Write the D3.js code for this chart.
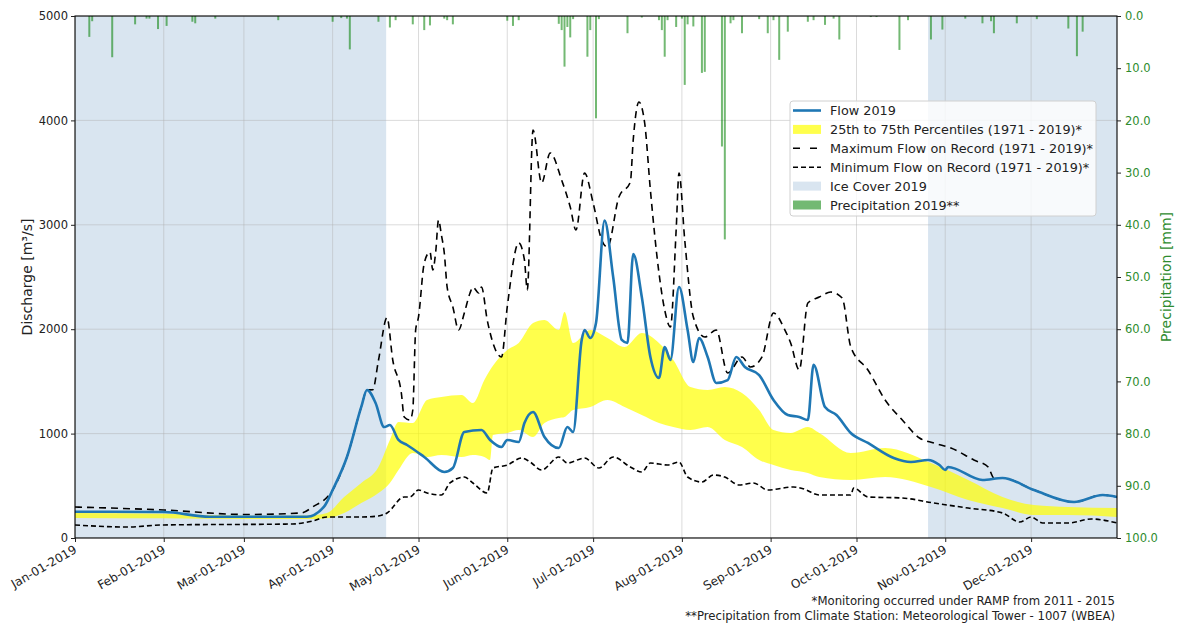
<!DOCTYPE html>
<html>
<head>
<meta charset="utf-8">
<script src="https://cdn.jsdelivr.net/npm/d3@7"></script>
<style>
  body { margin: 0; background: #fff; }
  text { font-family: "DejaVu Sans", sans-serif; }
</style>
</head>
<body>
<svg id="chart" width="1177" height="625"></svg>
<script>
// ---- Data (day of year, 0 = Jan 1 2019) ----
const flowDay = [0, 31, 47, 81, 87, 90, 95, 100, 102, 105, 108, 110, 113, 116, 122, 129, 132, 136, 142, 145, 149, 151, 155, 157, 160, 164, 169, 172, 174, 177, 178, 180, 182, 185, 188, 191, 193, 195, 198, 201, 204, 206, 208, 211, 214, 216, 218, 221, 224, 228, 231, 234, 239, 244, 249, 253, 256, 258, 262, 266, 271, 277, 286, 292, 298, 302, 304, 305, 317, 324, 335, 349, 359, 364];
const flowCms = [252, 249, 204, 204, 300, 460, 776, 1255, 1418, 1293, 1063, 1082, 939, 891, 776, 632, 670, 1015, 1034, 939, 872, 939, 920, 1101, 1207, 967, 862, 1063, 1015, 1897, 1992, 1916, 2059, 3040, 2500, 1897, 1868, 2720, 2308, 1734, 1533, 1830, 1705, 2404, 1992, 1686, 1916, 1734, 1485, 1513, 1734, 1638, 1561, 1322, 1178, 1159, 1130, 1660, 1255, 1178, 1006, 910, 766, 728, 747, 699, 651, 680, 556, 575, 460, 345, 412, 393];

const bandDay = [0, 31, 60, 81, 88, 94, 100, 106, 110, 113, 118, 123, 128, 135, 139, 143, 145, 146, 151, 155, 160, 164, 169, 171, 174, 180, 186, 192, 198, 204, 209, 215, 221, 227, 233, 239, 244, 250, 256, 260, 271, 283, 299, 312, 324, 335, 347, 364];
const p25Cms  = [192, 188, 182, 182, 190, 240, 335, 431, 527, 651, 814, 776, 795, 776, 795, 776, 747, 987, 1006, 1034, 967, 1101, 1149, 1159, 1226, 1255, 1322, 1255, 1178, 1101, 1063, 1034, 1063, 939, 872, 747, 699, 651, 623, 584, 556, 584, 489, 364, 287, 220, 220, 201];
const p75Cms  = [240, 232, 212, 215, 240, 393, 527, 680, 939, 1111, 1101, 1322, 1351, 1370, 1293, 1513, 1609, 1650, 1800, 1868, 2059, 2088, 1992, 2165, 1868, 1992, 1916, 1830, 1964, 1868, 1705, 1446, 1418, 1446, 1389, 1226, 1034, 1006, 1063, 1006, 814, 862, 718, 556, 393, 316, 297, 287];

const maxDay = [0, 31, 60, 79, 83, 90, 95, 100, 102, 104, 106, 109, 111, 114, 115, 117, 118, 119, 120, 122, 124, 125, 126, 127, 128, 129, 130, 132, 134, 136, 138, 139, 141, 142, 144, 149, 151, 155, 157, 158, 160, 163, 166, 170, 173, 175, 178, 181, 184, 186, 190, 194, 195, 197, 199, 201, 204, 206, 208, 210, 211, 213, 216, 220, 224, 228, 233, 236, 240, 244, 248, 250, 253, 256, 260, 264, 268, 271, 277, 283, 289, 295, 300, 306, 314, 319, 321, 324, 335, 349, 359, 364];
const maxCms = [297, 268, 225, 240, 297, 460, 776, 1255, 1418, 1420, 1700, 2110, 1705, 1389, 1159, 1130, 1226, 1992, 2117, 2634, 2740, 2567, 2740, 3046, 2902, 2730, 2404, 2213, 1992, 2155, 2347, 2404, 2347, 2404, 2088, 1734, 2213, 2826, 2663, 2375, 3908, 3400, 3688, 3429, 3170, 2950, 3496, 3209, 2854, 2787, 3266, 3410, 3812, 4176, 3975, 3333, 2538, 2184, 2021, 2950, 3496, 2854, 2117, 1925, 1992, 1580, 1734, 1638, 1734, 2155, 1992, 1868, 1609, 2251, 2308, 2356, 2299, 1830, 1609, 1322, 1130, 958, 910, 862, 747, 680, 575, 575, 460, 345, 412, 393];

const minDay = [0, 18, 31, 76, 83, 88, 100, 106, 109, 115, 117, 120, 123, 128, 131, 136, 139, 144, 146, 151, 156, 159, 163, 169, 172, 178, 183, 188, 194, 198, 201, 207, 211, 214, 219, 223, 227, 232, 237, 242, 251, 254, 260, 271, 272, 277, 289, 300, 312, 324, 330, 334, 338, 347, 355, 364];
const minCms = [125, 105, 125, 134, 163, 201, 201, 211, 240, 393, 393, 460, 431, 412, 527, 584, 527, 431, 670, 699, 766, 728, 651, 776, 718, 766, 670, 776, 680, 632, 718, 699, 728, 584, 536, 603, 584, 508, 527, 460, 489, 475, 412, 412, 479, 393, 383, 335, 287, 240, 153, 201, 144, 144, 182, 144];

const precipDay = [5, 6, 13, 21, 25, 26, 29, 32, 41, 42, 49, 71, 90, 93, 95, 96, 106, 110, 112, 118, 122, 124, 129, 130, 132, 151, 153, 155, 169, 170, 171, 172, 173, 174, 179, 180, 182, 183, 193, 198, 204, 205, 206, 207, 210, 212, 213, 214, 216, 219, 220, 226, 227, 229, 230, 233, 239, 242, 244, 246, 249, 256, 258, 262, 265, 267, 278, 280, 288, 291, 299, 303, 311, 317, 320, 321, 329, 336, 347, 350, 352];
const precipMm  = [4.0, 1.0, 7.9, 1.6, 0.5, 0.5, 2.5, 1.9, 1.1, 1.4, 0.5, 0.8, 1.1, 0.4, 0.5, 6.4, 1.1, 2.2, 0.8, 1.6, 2.7, 1.8, 0.5, 0.8, 1.6, 0.9, 1.9, 0.8, 1.5, 2.7, 9.7, 2.1, 4.1, 0.6, 7.8, 2.7, 19.6, 0.6, 3.3, 0.3, 0.8, 2.7, 7.8, 0.8, 2.1, 0.5, 13.2, 1.6, 2.0, 10.9, 10.7, 25.0, 42.8, 1.4, 0.8, 3.3, 0.6, 3.3, 0.8, 8.4, 3.0, 1.1, 0.8, 1.7, 0.5, 4.5, 0.2, 0.2, 6.5, 0.8, 4.5, 2.6, 0.5, 1.4, 1.0, 3.3, 1.4, 0.6, 2.4, 7.7, 3.0];

// ice-covered periods [start day, end day]
const iceStart = [0, 298];
const iceEnd   = [108, 364];

const dischargeTicks = [0, 1000, 2000, 3000, 4000, 5000];
const precipTicks = [0, 10, 20, 30, 40, 50, 60, 70, 80, 90, 100];
const monthTickLabels = ["Jan-01-2019", "Feb-01-2019", "Mar-01-2019", "Apr-01-2019", "May-01-2019", "Jun-01-2019",
                         "Jul-01-2019", "Aug-01-2019", "Sep-01-2019", "Oct-01-2019", "Nov-01-2019", "Dec-01-2019"];

const legendLabels = ["Flow 2019", "25th to 75th Percentiles (1971 - 2019)*", "Maximum Flow on Record (1971 - 2019)*",
                      "Minimum Flow on Record (1971 - 2019)*", "Ice Cover 2019", "Precipitation 2019**"];
const footnotes = ["*Monitoring occurred under RAMP from 2011 - 2015",
                   "**Precipitation from Climate Station: Meteorological Tower - 1007 (WBEA)"];

// ---- Layout ----
const W = 1177, H = 625;
const plotL = 75, plotR = 1117, plotT = 16, plotB = 538;

const dayDate = d => new Date(2019, 0, 1 + d);
const x = d3.scaleTime().domain([dayDate(0), dayDate(364)]).range([plotL, plotR]);
const y = d3.scaleLinear().domain([0, 5000]).range([plotB, plotT]);
const yP = d3.scaleLinear().domain([0, 100]).range([plotT, plotB]);

const svg = d3.select("#chart");
svg.append("rect").attr("width", W).attr("height", H).attr("fill", "#fff");

const COL = {
  flow: "#1f77b4", band: "#ffff00", ice: "#d9e5f0", precip: "#008000",
  grid: "#b0b0b0", greenText: "#2e8b2e"
};

svg.append("defs").append("clipPath").attr("id", "plot")
  .append("rect").attr("x", plotL).attr("y", plotT).attr("width", plotR - plotL).attr("height", plotB - plotT);

const plot = svg.append("g").attr("clip-path", "url(#plot)");

// ice cover spans
plot.selectAll("rect.ice").data(iceStart.map((s, i) => [s, iceEnd[i]])).join("rect")
  .attr("class", "ice")
  .attr("x", d => x(dayDate(d[0])))
  .attr("width", d => x(dayDate(d[1])) - x(dayDate(d[0])) + 2)
  .attr("y", plotT).attr("height", plotB - plotT)
  .attr("fill", COL.ice);

// grid
const monthDates = d3.range(12).map(m => new Date(2019, m, 1));
plot.append("g").selectAll("line").data(monthDates).join("line")
  .attr("x1", d => x(d)).attr("x2", d => x(d)).attr("y1", plotT).attr("y2", plotB)
  .attr("stroke", COL.grid).attr("stroke-opacity", 0.45).attr("stroke-width", 1);
plot.append("g").selectAll("line").data(dischargeTicks).join("line")
  .attr("x1", plotL).attr("x2", plotR).attr("y1", d => y(d)).attr("y2", d => y(d))
  .attr("stroke", COL.grid).attr("stroke-opacity", 0.45).attr("stroke-width", 1);

// percentile band
const band = bandDay.map((d, i) => ({ d, lo: p25Cms[i], hi: p75Cms[i] }));
plot.append("path").datum(band)
  .attr("d", d3.area().x(p => x(dayDate(p.d))).y0(p => y(p.lo)).y1(p => y(p.hi)).curve(d3.curveMonotoneX))
  .attr("fill", COL.band).attr("fill-opacity", 0.7);

// record lines
const lineOf = (days, vals) => d3.line().x((v, i) => x(dayDate(days[i]))).y(v => y(v)).curve(d3.curveMonotoneX)(vals);
plot.append("path").attr("d", lineOf(maxDay, maxCms))
  .attr("fill", "none").attr("stroke", "#000").attr("stroke-width", 1.6).attr("stroke-dasharray", "7,5");
plot.append("path").attr("d", lineOf(minDay, minCms))
  .attr("fill", "none").attr("stroke", "#000").attr("stroke-width", 1.6).attr("stroke-dasharray", "5,3");

// flow 2019
plot.append("path").attr("d", lineOf(flowDay, flowCms))
  .attr("fill", "none").attr("stroke", COL.flow).attr("stroke-width", 2.6).attr("stroke-linejoin", "round");

// precipitation bars hanging from the top (inverted secondary axis)
const dayW = x(dayDate(1)) - x(dayDate(0));
plot.append("g").selectAll("rect").data(precipDay.map((d, i) => ({ d, v: precipMm[i] }))).join("rect")
  .attr("x", p => x(dayDate(p.d)) - dayW * 0.35)
  .attr("width", dayW * 0.7)
  .attr("y", yP(0))
  .attr("height", p => yP(p.v) - yP(0))
  .attr("fill", COL.precip).attr("fill-opacity", 0.55);

// spines
svg.append("rect").attr("x", plotL).attr("y", plotT).attr("width", plotR - plotL).attr("height", plotB - plotT)
  .attr("fill", "none").attr("stroke", "#000").attr("stroke-width", 1.1);

// left axis
const yAxis = svg.append("g").attr("transform", `translate(${plotL},0)`)
  .call(d3.axisLeft(y).tickValues(dischargeTicks).tickFormat(d3.format("d")).tickSize(4).tickPadding(3));
yAxis.select(".domain").remove();
yAxis.selectAll("text").attr("font-size", 11.5).attr("fill", "#222").attr("font-family", "DejaVu Sans");
yAxis.selectAll("line").attr("stroke", "#222");

// right axis
const pAxis = svg.append("g").attr("transform", `translate(${plotR},0)`)
  .call(d3.axisRight(yP).tickValues(precipTicks).tickFormat(d3.format(".1f")).tickSize(4).tickPadding(4));
pAxis.select(".domain").remove();
pAxis.selectAll("text").attr("font-size", 11.5).attr("fill", COL.greenText).attr("font-family", "DejaVu Sans");
pAxis.selectAll("line").attr("stroke", "#222");

// bottom axis with rotated labels
const xAxis = svg.append("g").attr("transform", `translate(0,${plotB})`)
  .call(d3.axisBottom(x).tickValues(monthDates).tickFormat((d, i) => monthTickLabels[i]).tickSize(4));
xAxis.select(".domain").remove();
xAxis.selectAll("line").attr("stroke", "#222");
xAxis.selectAll("text")
  .attr("font-size", 12).attr("fill", "#222").attr("font-family", "DejaVu Sans")
  .attr("text-anchor", "end").attr("dy", null).attr("y", null)
  .attr("transform", "translate(2,14) rotate(-30)");

// axis titles
svg.append("text").attr("transform", `translate(27,${(plotT + plotB) / 2}) rotate(-90)`)
  .attr("text-anchor", "middle").attr("dominant-baseline", "central")
  .attr("font-size", 14).attr("fill", "#222").text("Discharge [m³/s]");
svg.append("text").attr("transform", `translate(1166,${(plotT + plotB) / 2}) rotate(-90)`)
  .attr("text-anchor", "middle").attr("dominant-baseline", "central")
  .attr("font-size", 14).attr("fill", COL.greenText).text("Precipitation [mm]");

// legend
const lg = svg.append("g");
lg.append("rect").attr("x", 790).attr("y", 101).attr("width", 306).attr("height", 115).attr("rx", 3)
  .attr("fill", "#fff").attr("fill-opacity", 0.8).attr("stroke", "#d0d0d0");
const rowY = i => 110.5 + i * 18.9;
const hx0 = 793, hx1 = 821;
lg.append("line").attr("x1", hx0).attr("x2", hx1).attr("y1", rowY(0)).attr("y2", rowY(0))
  .attr("stroke", COL.flow).attr("stroke-width", 2.6);
lg.append("rect").attr("x", hx0).attr("y", rowY(1) - 4.5).attr("width", hx1 - hx0).attr("height", 9)
  .attr("fill", COL.band).attr("fill-opacity", 0.7);
lg.append("line").attr("x1", hx0).attr("x2", hx1).attr("y1", rowY(2)).attr("y2", rowY(2))
  .attr("stroke", "#000").attr("stroke-width", 1.6).attr("stroke-dasharray", "7,10");
lg.append("line").attr("x1", hx0).attr("x2", hx1).attr("y1", rowY(3)).attr("y2", rowY(3))
  .attr("stroke", "#000").attr("stroke-width", 1.6).attr("stroke-dasharray", "5,3");
lg.append("rect").attr("x", hx0).attr("y", rowY(4) - 4.5).attr("width", hx1 - hx0).attr("height", 9)
  .attr("fill", COL.ice);
lg.append("rect").attr("x", hx0).attr("y", rowY(5) - 4.5).attr("width", hx1 - hx0).attr("height", 9)
  .attr("fill", COL.precip).attr("fill-opacity", 0.55);
lg.selectAll("text.lab").data(legendLabels).join("text").attr("class", "lab")
  .attr("x", 830).attr("y", (d, i) => rowY(i)).attr("dominant-baseline", "central")
  .attr("font-size", 12.8).attr("fill", "#222").text(d => d);

// footnotes
svg.selectAll("text.note").data(footnotes).join("text").attr("class", "note")
  .attr("x", 1115).attr("y", (d, i) => 601 + i * 15).attr("text-anchor", "end").attr("dominant-baseline", "central")
  .attr("font-size", 11.7).attr("fill", "#222").text(d => d);
</script>
</body>
</html>
